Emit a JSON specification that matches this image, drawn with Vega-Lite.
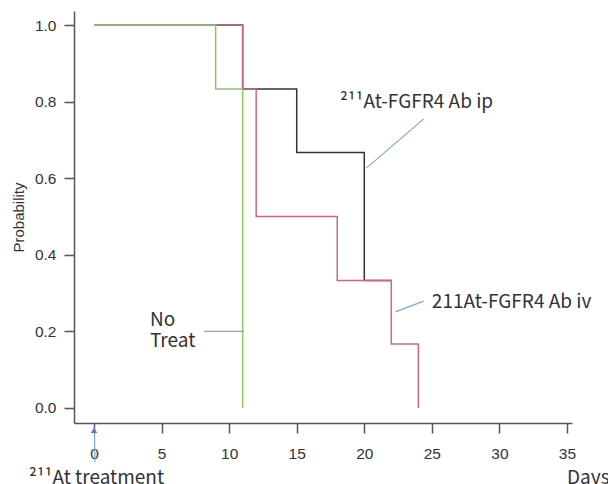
{
  "$schema": "https://vega.github.io/schema/vega-lite/v6.json",
  "width": 498,
  "height": 412,
  "autosize": {"type": "none"},
  "padding": {"left": 74, "top": 11, "right": 36, "bottom": 61},
  "background": "white",
  "config": {
    "view": {"stroke": null},
    "axis": {
      "grid": false,
      "labelFont": "Liberation Sans",
      "titleFont": "Liberation Sans",
      "labelFontSize": 15.5,
      "titleFontSize": 15,
      "labelColor": "#333333",
      "titleColor": "#333333",
      "titleFontWeight": "normal",
      "domainColor": "#555555",
      "tickColor": "#555555",
      "domainWidth": 1.5,
      "tickWidth": 1.5,
      "tickSize": 10
    }
  },
  "datasets": {
    "km": [
      {"group": "ip", "day": 0, "p": 1},
      {"group": "ip", "day": 11, "p": 0.833},
      {"group": "ip", "day": 15, "p": 0.667},
      {"group": "ip", "day": 20, "p": 0.333},
      {"group": "ip", "day": 22, "p": 0.333},
      {"group": "iv", "day": 0, "p": 1},
      {"group": "iv", "day": 11, "p": 0.833},
      {"group": "iv", "day": 12, "p": 0.5},
      {"group": "iv", "day": 18, "p": 0.333},
      {"group": "iv", "day": 22, "p": 0.167},
      {"group": "iv", "day": 24, "p": 0},
      {"group": "none", "day": 0, "p": 1},
      {"group": "none", "day": 9, "p": 0.833},
      {"group": "none", "day": 11, "p": 0}
    ],
    "notes": [
      {"label": "²¹¹At-FGFR4 Ab ip", "day": 18.2, "p": 0.8},
      {"label": "211At-FGFR4 Ab iv", "day": 25.0, "p": 0.2775},
      {"label": "No\nTreat", "day": 4.14, "p": 0.23},
      {"label": "²¹¹At treatment", "day": -4.81, "p": -0.183},
      {"label": "Days", "day": 35.0, "p": -0.183}
    ],
    "leaders": [
      {"day": 24.4, "p": 0.755, "day2": 20.17, "p2": 0.627},
      {"day": 24.4, "p": 0.279, "day2": 22.3, "p2": 0.251},
      {"day": 8.14, "p": 0.2, "day2": 11.1, "p2": 0.2},
      {"day": 0.03, "p": -0.05, "day2": 0.07, "p2": -0.141}
    ],
    "arrow": [
      {"day": 0.0, "p": -0.058}
    ]
  },
  "layer": [
    {
      "data": {"name": "km"},
      "mark": {"type": "line", "interpolate": "step-after", "strokeWidth": 1.5},
      "encoding": {
        "x": {
          "field": "day", "type": "quantitative", "title": "OS",
          "scale": {"domain": [-1.48, 35.37], "nice": false, "zero": false},
          "axis": {"values": [0, 5, 10, 15, 20, 25, 30, 35], "labelPadding": 13, "titlePadding": 21}
        },
        "y": {
          "field": "p", "type": "quantitative", "title": "Probability",
          "scale": {"domain": [-0.0392, 1.0366], "nice": false, "zero": false},
          "axis": {"values": [0, 0.2, 0.4, 0.6, 0.8, 1], "format": ".1f", "labelPadding": 8, "titlePadding": 8}
        },
        "color": {
          "field": "group", "type": "nominal", "legend": null,
          "scale": {"domain": ["ip", "iv", "none"], "range": ["#333333", "#c96b80", "#8fc46c"]}
        }
      }
    },
    {
      "data": {"name": "leaders"},
      "mark": {"type": "rule", "color": "#86a3d8", "strokeWidth": 1.2},
      "encoding": {
        "x": {"field": "day", "type": "quantitative", "title": "OS"},
        "y": {"field": "p", "type": "quantitative", "title": "Probability"},
        "x2": {"field": "day2"},
        "y2": {"field": "p2"}
      }
    },
    {
      "data": {"name": "arrow"},
      "mark": {"type": "point", "shape": "triangle-up", "filled": true, "size": 40, "color": "#5577cc", "opacity": 1},
      "encoding": {
        "x": {"field": "day", "type": "quantitative", "title": "OS"},
        "y": {"field": "p", "type": "quantitative", "title": "Probability"}
      }
    },
    {
      "data": {"name": "notes"},
      "mark": {"type": "text", "align": "left", "baseline": "middle", "font": "Noto Sans CJK JP", "fontSize": 19, "color": "#333333", "lineBreak": "\n", "lineHeight": 21},
      "encoding": {
        "x": {"field": "day", "type": "quantitative", "title": "OS"},
        "y": {"field": "p", "type": "quantitative", "title": "Probability"},
        "text": {"field": "label"}
      }
    }
  ]
}
